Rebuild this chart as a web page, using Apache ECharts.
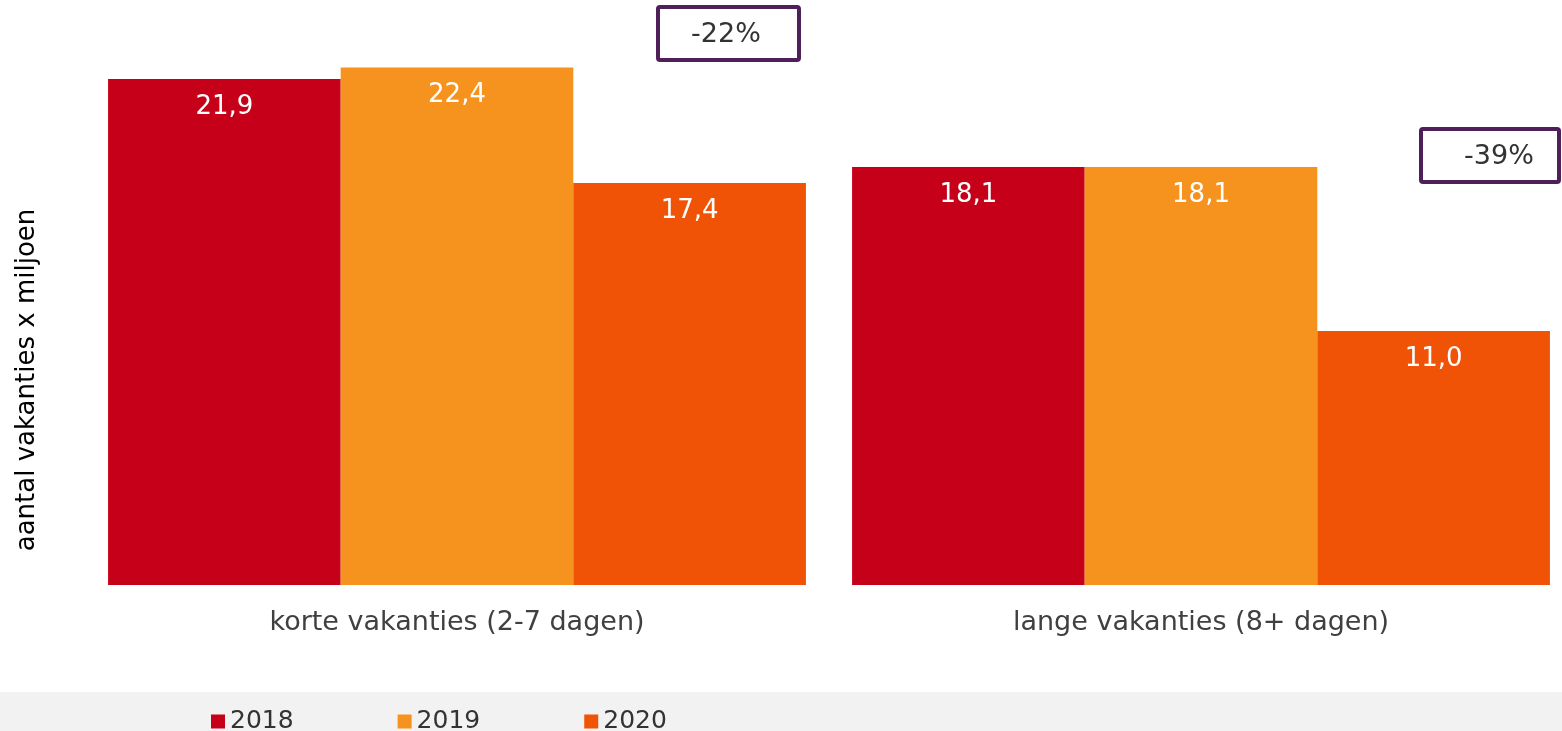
<!DOCTYPE html>
<html>
<head>
<meta charset="utf-8">
<script src="https://cdn.jsdelivr.net/npm/echarts@6/dist/echarts.min.js"></script>
<style>
  html, body { margin: 0; padding: 0; background: #fff; }
  #main { width: 1562px; height: 731px; }
</style>
</head>
<body>
<div id="main"></div>
<script>
// data
const categories = ["korte vakanties (2-7 dagen)", "lange vakanties (8+ dagen)"];
const years = ["2018", "2019", "2020"];
const values2018 = [21.9, 18.1];
const values2019 = [22.4, 18.1];
const values2020 = [17.4, 11.0];
const changeLabels = ["-22%", "-39%"];
const colors = ["#c50018", "#f6931e", "#f15306"];

const fontFam = "DejaVu Sans";
const chart = echarts.init(document.getElementById("main"), null, { renderer: "canvas" });

const fmt = (p) => p.value.toFixed(1).replace(".", ",");

function makeSeries(name, data, color) {
  return {
    name: name,
    type: "bar",
    data: data,
    barGap: "0%",
    barCategoryGap: "6.2%", // ruimte tussen de twee groepen
    itemStyle: { color: color },
    label: {
      show: true,
      position: "insideTop",
      distance: 15,
      color: "#fff",
      fontSize: 26,
      fontFamily: fontFam,
      formatter: fmt,
    },
    animation: false,
  };
}

const option = {
  color: colors,
  textStyle: { fontFamily: fontFam },
  grid: {
    left: 85,
    width: 1488,
    top: 7.5,
    bottom: 146,
    containLabel: false,
    outerBoundsMode: "none",
  },
  legend: {
    data: years,
    left: 206,
    top: 704,
    itemWidth: 14,
    itemHeight: 14,
    itemGap: 104,
    icon: "rect",
    textStyle: { fontSize: 25, fontFamily: fontFam, color: "#333" },
  },
  xAxis: {
    type: "category",
    data: categories,
    axisLine: { show: false },
    axisTick: { show: false },
    axisLabel: {
      margin: 24,
      fontSize: 27,
      fontFamily: fontFam,
      color: "#404040",
    },
  },
  yAxis: {
    type: "value",
    min: 0,
    max: 25,
    show: false,
    splitLine: { show: false },
  },
  series: [
    makeSeries(years[0], values2018, colors[0]),
    makeSeries(years[1], values2019, colors[1]),
    makeSeries(years[2], values2020, colors[2]),
  ],
  graphic: [
    // grijze legendabalk
    {
      type: "rect",
      z: -10,
      shape: { x: 0, y: 692, width: 1562, height: 40 },
      style: { fill: "#f2f2f2" },
    },
    // y-as titel
    {
      type: "text",
      x: 27,
      y: 380,
      rotation: Math.PI / 2,
      style: {
        text: "aantal vakanties x miljoen",
        fontSize: 26,
        fontFamily: fontFam,
        fill: "#000",
        align: "center",
        verticalAlign: "middle",
      },
    },
    // -22% box
    {
      type: "rect",
      shape: { x: 658, y: 7, width: 141, height: 53, r: 2 },
      style: { fill: "#fff", stroke: "#4f1f5a", lineWidth: 4 },
    },
    {
      type: "text",
      x: 726,
      y: 35,
      style: {
        text: changeLabels[0],
        fontSize: 27,
        fontFamily: fontFam,
        fill: "#333",
        align: "center",
        verticalAlign: "middle",
      },
    },
    // -39% box
    {
      type: "rect",
      shape: { x: 1421, y: 129, width: 138, height: 53, r: 2 },
      style: { fill: "#fff", stroke: "#4f1f5a", lineWidth: 4 },
    },
    {
      type: "text",
      x: 1499,
      y: 157,
      style: {
        text: changeLabels[1],
        fontSize: 27,
        fontFamily: fontFam,
        fill: "#333",
        align: "center",
        verticalAlign: "middle",
      },
    },
  ],
};

chart.setOption(option);
</script>
</body>
</html>
